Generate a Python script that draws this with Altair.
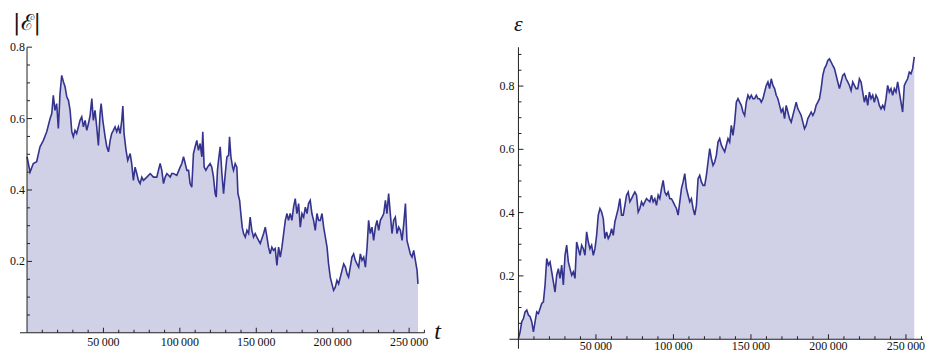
import altair as alt
import pandas as pd

# ---------------- data (t in thousands) ----------------
T_LEFT_K = [0, 2.0, 4.1, 6.3, 8.5, 10.7, 12.9, 15.1, 16.2, 17.2, 18.3, 19.4, 20.5, 21.6, 22.7, 23.8,
            24.9, 26.0, 27.1, 28.2, 29.3, 30.3, 31.4, 32.5, 34.7, 35.8, 36.9, 38.0, 39.1, 40.2, 41.3,
            42.4, 43.4, 44.5, 45.6, 46.7, 47.8, 48.5, 49.6, 51.1, 52.2, 53.3, 54.4, 55.4, 56.5, 57.6,
            58.7, 59.8, 60.9, 62.0, 62.7, 63.5, 64.8, 65.9, 67.5, 68.5, 69.6, 70.7, 71.8, 72.9, 74.0,
            75.1, 76.2, 78.4, 80.6, 82.7, 84.9, 87.1, 88.2, 89.3, 90.4, 91.5, 93.7, 94.7, 95.8, 98.0,
            100.2, 101.3, 102.4, 103.5, 104.6, 105.7, 106.7, 107.8, 108.9, 110.0, 111.1, 112.2, 113.3,
            114.4, 115.0, 115.9, 117.0, 118.1, 119.8, 120.9, 122.0, 123.1, 123.8, 124.6, 125.3, 126.4,
            127.5, 128.6, 129.7, 130.8, 131.9, 132.5, 133.4, 134.5, 135.1, 136.2, 137.3, 138.0, 139.1,
            139.9, 140.8, 141.7, 142.8, 143.9, 145.0, 146.0, 147.1, 148.2, 149.3, 150.4, 151.5, 152.6,
            154.8, 155.9, 157.0, 158.0, 159.1, 160.2, 161.3, 162.4, 163.5, 164.6, 165.7, 166.8, 167.9,
            169.0, 170.1, 171.1, 172.2, 173.3, 174.4, 175.5, 176.6, 177.7, 178.8, 179.9, 181.0, 182.1,
            183.2, 184.2, 185.3, 186.4, 187.5, 188.6, 189.7, 190.8, 191.9, 193.0, 194.1, 195.2, 196.3,
            197.3, 198.4, 199.5, 200.6, 201.7, 202.8, 203.9, 205.0, 206.1, 207.2, 208.3, 209.4, 210.4,
            211.5, 212.6, 213.7, 214.8, 215.9, 217.0, 218.1, 219.2, 220.3, 221.4, 222.5, 223.5, 224.6,
            225.7, 226.8, 227.9, 229.0, 230.1, 231.2, 232.3, 233.4, 234.5, 235.5, 236.6, 237.7, 238.8,
            239.9, 241.0, 242.1, 243.2, 244.3, 245.4, 246.5, 247.6, 248.6, 249.7, 250.8, 251.9, 253.0,
            254.1, 255.2, 255.8]

E_ABS = [0.493, 0.450, 0.474, 0.479, 0.521, 0.539, 0.563, 0.600, 0.614, 0.665, 0.623, 0.642, 0.572,
         0.670, 0.721, 0.703, 0.689, 0.661, 0.651, 0.623, 0.563, 0.549, 0.567, 0.558, 0.595, 0.605,
         0.577, 0.595, 0.567, 0.586, 0.609, 0.656, 0.595, 0.623, 0.577, 0.525, 0.614, 0.642, 0.595,
         0.549, 0.521, 0.507, 0.539, 0.558, 0.567, 0.577, 0.563, 0.577, 0.558, 0.595, 0.635, 0.558,
         0.511, 0.483, 0.502, 0.474, 0.427, 0.464, 0.446, 0.427, 0.418, 0.436, 0.427, 0.436, 0.446,
         0.436, 0.436, 0.474, 0.455, 0.418, 0.436, 0.446, 0.436, 0.446, 0.446, 0.441, 0.464, 0.474,
         0.493, 0.474, 0.455, 0.455, 0.418, 0.408, 0.502, 0.521, 0.539, 0.511, 0.530, 0.493, 0.563,
         0.464, 0.455, 0.464, 0.474, 0.464, 0.436, 0.390, 0.380, 0.455, 0.483, 0.521, 0.446, 0.390,
         0.446, 0.493, 0.497, 0.549, 0.493, 0.464, 0.455, 0.474, 0.464, 0.390, 0.371, 0.334, 0.296,
         0.278, 0.268, 0.287, 0.278, 0.324, 0.287, 0.268, 0.278, 0.268, 0.259, 0.250, 0.278, 0.296,
         0.268, 0.240, 0.221, 0.240, 0.231, 0.236, 0.189, 0.240, 0.212, 0.240, 0.278, 0.315, 0.334,
         0.315, 0.334, 0.315, 0.352, 0.376, 0.334, 0.362, 0.296, 0.334, 0.324, 0.352, 0.334, 0.362,
         0.371, 0.334, 0.315, 0.287, 0.334, 0.315, 0.315, 0.334, 0.296, 0.268, 0.240, 0.193, 0.156,
         0.137, 0.119, 0.128, 0.147, 0.137, 0.156, 0.175, 0.193, 0.184, 0.165, 0.156, 0.184, 0.212,
         0.221, 0.203, 0.193, 0.184, 0.221, 0.203, 0.212, 0.184, 0.240, 0.315, 0.278, 0.296, 0.259,
         0.296, 0.315, 0.287, 0.315, 0.324, 0.334, 0.371, 0.334, 0.390, 0.334, 0.278, 0.315, 0.324,
         0.278, 0.296, 0.287, 0.259, 0.306, 0.362, 0.259, 0.240, 0.221, 0.212, 0.231, 0.203, 0.175,
         0.137]

EPS = [0.002, 0.023, 0.055, 0.065, 0.086, 0.092, 0.076, 0.071, 0.055, 0.023, 0.055, 0.086, 0.081,
       0.097, 0.113, 0.118, 0.171, 0.255, 0.234, 0.244, 0.213, 0.181, 0.149, 0.202, 0.223, 0.192,
       0.234, 0.171, 0.265, 0.297, 0.244, 0.223, 0.202, 0.213, 0.192, 0.307, 0.286, 0.265, 0.297,
       0.286, 0.265, 0.339, 0.307, 0.286, 0.297, 0.265, 0.286, 0.328, 0.392, 0.413, 0.402, 0.381,
       0.318, 0.339, 0.318, 0.328, 0.349, 0.328, 0.371, 0.392, 0.413, 0.444, 0.392, 0.392, 0.423,
       0.455, 0.465, 0.434, 0.444, 0.455, 0.465, 0.455, 0.402, 0.413, 0.434, 0.423, 0.434, 0.444,
       0.439, 0.434, 0.455, 0.434, 0.444, 0.423, 0.455, 0.444, 0.476, 0.502, 0.465, 0.455, 0.465,
       0.444, 0.444, 0.434, 0.423, 0.413, 0.392, 0.434, 0.476, 0.497, 0.523, 0.476, 0.455, 0.434,
       0.444, 0.413, 0.392, 0.423, 0.507, 0.518, 0.497, 0.486, 0.486, 0.518, 0.560, 0.602, 0.571,
       0.549, 0.560, 0.581, 0.623, 0.634, 0.613, 0.602, 0.592, 0.613, 0.634, 0.623, 0.676, 0.644,
       0.686, 0.749, 0.760, 0.749, 0.739, 0.718, 0.707, 0.749, 0.771, 0.760, 0.771, 0.760, 0.760,
       0.771, 0.760, 0.760, 0.749, 0.760, 0.781, 0.802, 0.813, 0.792, 0.823, 0.802, 0.792, 0.771,
       0.760, 0.739, 0.718, 0.728, 0.697, 0.739, 0.718, 0.697, 0.686, 0.707, 0.728, 0.749, 0.728,
       0.718, 0.707, 0.686, 0.665, 0.676, 0.697, 0.707, 0.718, 0.707, 0.718, 0.739, 0.749, 0.760,
       0.792, 0.834, 0.855, 0.865, 0.881, 0.886, 0.876, 0.865, 0.855, 0.834, 0.813, 0.792, 0.813,
       0.834, 0.839, 0.823, 0.813, 0.802, 0.786, 0.813, 0.802, 0.792, 0.792, 0.823, 0.813, 0.781,
       0.749, 0.771, 0.739, 0.781, 0.760, 0.771, 0.749, 0.771, 0.760, 0.739, 0.728, 0.739, 0.728,
       0.760, 0.802, 0.781, 0.792, 0.771, 0.792, 0.781, 0.813, 0.781, 0.749, 0.718, 0.802, 0.813,
       0.823, 0.844, 0.839, 0.855, 0.892]
# right series was read on an even grid of ~1073 time units
T_RIGHT_K = [round(i * 1.073, 3) for i in range(len(EPS))]

X_MAJOR = [50000, 100000, 150000, 200000, 250000]
X_LABELS = ["50\u2009000", "100\u2009000", "150\u2009000", "200\u2009000", "250\u2009000"]
X_MINOR = [k * 10000 for k in range(1, 27) if k % 5 != 0]
Y_MAJOR = [0.2, 0.4, 0.6, 0.8]
Y_LABELS = ["0.2", "0.4", "0.6", "0.8"]
Y_MINOR_L = [0.05, 0.1, 0.15, 0.25, 0.3, 0.35, 0.45, 0.5, 0.55, 0.65, 0.7, 0.75]
Y_MINOR_R = Y_MINOR_L + [0.85, 0.9]

LINE = "#34348f"
FILL = "#d0d0e6"
AXC = "#222222"
TXT = "#111111"
SERIF = "Liberation Serif"


def panel(tk, vals, xdom, ydom, width, height, yaxis_lo, y_minor,
          ytitle, ytitle_font, ytitle_style, ytitle_y, y_lpad, x_lab_dy, x_title):
    df = pd.DataFrame({"t": [v * 1000 for v in tk], "v": vals})
    xs = alt.Scale(domain=xdom, nice=False, zero=False)
    ys = alt.Scale(domain=ydom, nice=False, zero=False)

    def X(f):
        return alt.X(f, type="quantitative", scale=xs, axis=None)

    def Y(f):
        return alt.Y(f, type="quantitative", scale=ys, axis=None)

    area = alt.Chart(df).transform_calculate(zero="0").mark_area(color=FILL, opacity=1).encode(
        x=X("t"), y=Y("v"), y2=alt.Y2("zero"))
    line = alt.Chart(df).mark_line(color=LINE, strokeWidth=1.6).encode(x=X("t"), y=Y("v"))

    # axis lines and inward ticks as thin filled rectangles (data units)
    ux = (xdom[1] - xdom[0]) / width      # data units per pixel, x
    uy = (ydom[1] - ydom[0]) / height     # data units per pixel, y
    segs = {"a": [], "b": [], "c": [], "d": []}

    def box(x1, x2, y1, y2):
        segs["a"].append(x1)
        segs["b"].append(x2)
        segs["c"].append(y1)
        segs["d"].append(y2)

    box(xdom[0], xdom[1], -0.5 * uy, 0.5 * uy)
    box(-0.5 * ux, 0.5 * ux, yaxis_lo, Y_MAJOR[-1] if ydom[1] < 0.85 else ydom[1])
    for tv in X_MAJOR:
        box(tv - 0.5 * ux, tv + 0.5 * ux, 0, 5 * uy)
    for tv in X_MINOR:
        box(tv - 0.5 * ux, tv + 0.5 * ux, 0, 3 * uy)
    for yv in Y_MAJOR:
        box(0, 5 * ux, yv - 0.5 * uy, yv + 0.5 * uy)
    for yv in y_minor:
        box(0, 3 * ux, yv - 0.5 * uy, yv + 0.5 * uy)
    axes = alt.Chart(pd.DataFrame(segs)).mark_rect(color=AXC, opacity=1).encode(
        x=X("a"), x2=alt.X2("b"), y=Y("c"), y2=alt.Y2("d"))

    xl = alt.Chart(pd.DataFrame({"t": X_MAJOR, "v": [0] * 5, "lab": X_LABELS})).mark_text(
        font=SERIF, fontSize=12, color=TXT, align="center", baseline="top", dy=x_lab_dy
    ).encode(x=X("t"), y=Y("v"), text="lab:N")
    yl = alt.Chart(pd.DataFrame({"t": [0] * 4, "v": Y_MAJOR, "lab": Y_LABELS})).mark_text(
        font=SERIF, fontSize=12, color=TXT, align="right", baseline="middle", dx=-y_lpad
    ).encode(x=X("t"), y=Y("v"), text="lab:N")
    yt = alt.Chart(pd.DataFrame({"t": [0], "lab": [ytitle]})).mark_text(
        font=ytitle_font, fontSize=22, fontStyle=ytitle_style, color=TXT,
        align="center", baseline="middle"
    ).encode(x=X("t"), y=alt.value(ytitle_y), text="lab:N")
    layers = [area, line, xl, yl, yt]
    if x_title:
        xt = alt.Chart(pd.DataFrame({"v": [0], "lab": ["t"]})).mark_text(
            font=SERIF, fontSize=24, fontStyle="italic", color=TXT,
            align="center", baseline="middle", dy=-1
        ).encode(x=alt.value(width + 13), y=Y("v"), text="lab:N")
        layers.append(xt)
    layers.append(axes)

    return alt.layer(*layers).properties(width=width, height=height)


left = panel(T_LEFT_K, E_ABS, [-4600, 260100], [0.0, 0.8], 405, 286, 0.0,
             Y_MINOR_L, "|\u2130|", "DejaVu Serif", "normal", -24, 2, 4, True)
right = panel(T_RIGHT_K, EPS, [-5800, 261000], [-0.0306, 0.923], 414, 302, -0.0306,
              Y_MINOR_R, "\u03b5", SERIF, "italic", -23, 4, 2, False)

chart = alt.hconcat(left, right, spacing=58).properties(
    padding={"left": 2, "top": 4, "right": 0, "bottom": 0}
).configure_view(stroke=None)

chart.save("out.html", embed_options={"renderer": "svg", "actions": False})
